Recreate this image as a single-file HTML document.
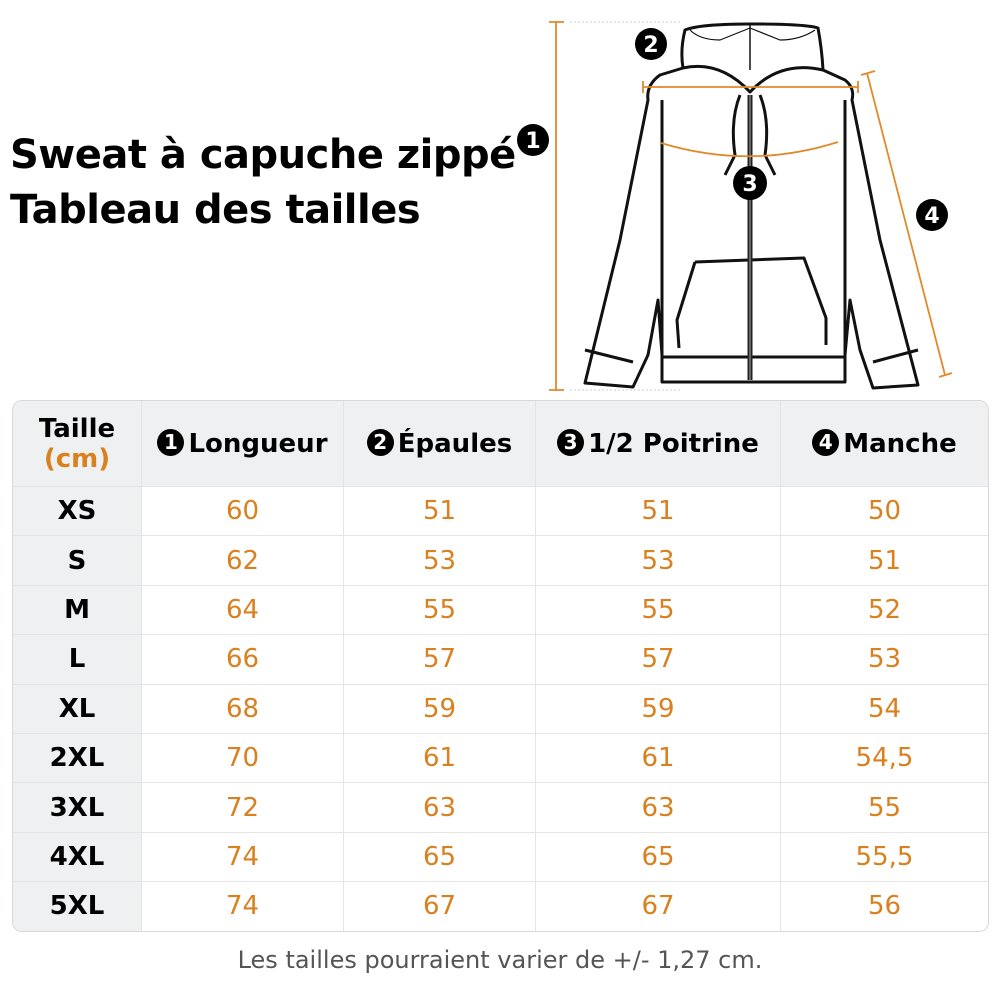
<!DOCTYPE html>
<html><head><meta charset="utf-8"><style>
body{margin:0;width:1000px;height:1000px;background:#fff;font-family:"DejaVu Sans","Liberation Sans",sans-serif;position:relative;overflow:hidden}
.t{position:absolute;left:10px;font-weight:bold;font-size:40px;color:#000;letter-spacing:-0.5px}
table{position:absolute;left:12px;top:400px;width:977px;border-collapse:separate;border-spacing:0;border:1px solid #d8d8d8;border-radius:10px;overflow:hidden}
td{border-right:1px solid #e4e4e4;border-bottom:1px solid #e4e4e4;text-align:center;height:48.4px;font-size:26px;color:#d9801f;padding:0}
tr td:last-child{border-right:none}
tr:last-child td{border-bottom:none}
td.s{background:#eff0f2;color:#000;font-weight:bold;width:128px}
tr.h td{background:#eff0f2;color:#000;font-weight:bold;height:85px;font-size:26px}
.n{display:inline-block;width:27px;height:27px;border-radius:50%;background:#000;color:#fff;font-size:20px;line-height:27px;text-align:center;vertical-align:3px;margin-right:4px}
.foot{position:absolute;top:946px;width:1000px;text-align:center;font-size:24px;color:#555;font-family:"DejaVu Sans",sans-serif}
</style></head><body>
<div class="t" style="top:132px">Sweat à capuche zippé</div>
<div class="t" style="top:187px">Tableau des tailles</div>
<svg style="position:absolute;left:0;top:0" width="1000" height="400">
<g fill="none" stroke="#111" stroke-width="3" stroke-linejoin="round">
<path d="M685,30 Q700,24 750,24 Q805,24 818,28 Q822,50 823,70 L845,80 Q855,88 852,100 L880,240 L918,385 L873,388 L860,350 L850,300 L845,355 L845,382 L662,382 L662,355 L658,300 L648,355 L633,387 L585,383 L620,240 L648,100 Q646,85 660,75 L683,68 Q680,50 685,30Z"/>
<path d="M683,68 Q720,60 750,92 Q780,60 823,70"/>
<path d="M662,100 L662,355 M845,100 L845,355 M662,357 L845,357"/>
<path d="M695,262 L804,258 L826,318 L826,345 M695,262 L677,320 L679,348"/>
<path d="M585,350 L633,362 M918,350 L873,362"/>
<path d="M740,95 Q730,120 735,155 L725,175 M760,95 Q770,120 765,155 L775,175"/>
<path d="M690,30 Q700,40 720,40 L750,28 L780,40 Q800,40 815,30" stroke-width="1.2"/>
<path d="M750,25 L750,70" stroke-width="1.5"/>
</g>
<path d="M750,95 L750,380" stroke="#222" stroke-width="5"/>
<path d="M750,95 L750,380" stroke="#aaa" stroke-width="1"/>
<g stroke="#e08a2a" stroke-width="1.8" fill="none">
<path d="M556,22 L556,390 M549,22 L564,22 M549,390 L564,390"/>
<path d="M643,87 L858,87 M643,81 L643,93 M858,81 L858,93"/>
<path d="M661,143 Q750,170 838,142"/>
<path d="M867,73 L945,375 M861,75 L875,71 M939,377 L952,373"/>
</g>
<path d="M570,22 L680,22 M570,390 L680,390" stroke="#ccc" stroke-width="1" stroke-dasharray="2,2"/>
<g font-family="DejaVu Sans,sans-serif" font-weight="bold" font-size="22" fill="#fff" text-anchor="middle">
<circle cx="533" cy="140" r="16" fill="#000"/><text x="533" y="148">1</text>
<circle cx="651" cy="44" r="16" fill="#000"/><text x="651" y="52">2</text>
<circle cx="750" cy="183" r="17" fill="#000"/><text x="750" y="191">3</text>
<circle cx="932" cy="215" r="16" fill="#000"/><text x="932" y="223">4</text>
</g>
</svg>
<table>
<tr class="h"><td class="s">Taille<br><span style="color:#d9801f">(cm)</span></td><td style="width:201px"><span class="n">1</span>Longueur</td><td style="width:191px"><span class="n">2</span>Épaules</td><td style="width:244px"><span class="n">3</span>1/2 Poitrine</td><td><span class="n">4</span>Manche</td></tr>
<tr><td class="s">XS</td><td>60</td><td>51</td><td>51</td><td>50</td></tr>
<tr><td class="s">S</td><td>62</td><td>53</td><td>53</td><td>51</td></tr>
<tr><td class="s">M</td><td>64</td><td>55</td><td>55</td><td>52</td></tr>
<tr><td class="s">L</td><td>66</td><td>57</td><td>57</td><td>53</td></tr>
<tr><td class="s">XL</td><td>68</td><td>59</td><td>59</td><td>54</td></tr>
<tr><td class="s">2XL</td><td>70</td><td>61</td><td>61</td><td>54,5</td></tr>
<tr><td class="s">3XL</td><td>72</td><td>63</td><td>63</td><td>55</td></tr>
<tr><td class="s">4XL</td><td>74</td><td>65</td><td>65</td><td>55,5</td></tr>
<tr><td class="s">5XL</td><td>74</td><td>67</td><td>67</td><td>56</td></tr>
</table>
<div class="foot">Les tailles pourraient varier de +/- 1,27 cm.</div>
</body></html>
